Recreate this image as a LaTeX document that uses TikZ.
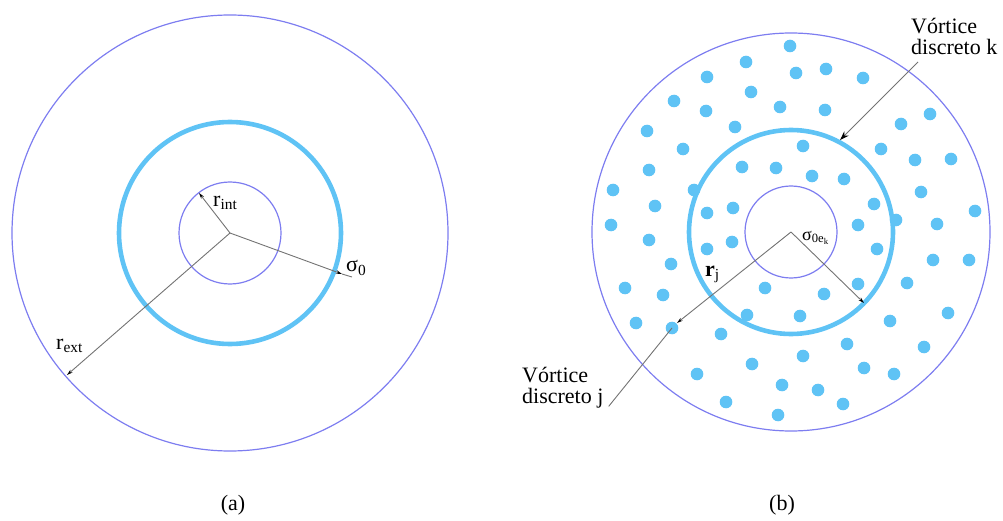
\documentclass[tikz,border=0pt]{standalone}
\usepackage{fontspec}
\setmainfont{Liberation Serif}
\usetikzlibrary{arrows.meta,positioning}
\definecolor{ringblue}{RGB}{125,125,240}
\definecolor{sheetcyan}{RGB}{95,195,245}
\definecolor{leadgray}{RGB}{115,115,115}

\begin{document}
\begin{tikzpicture}[x=1pt,y=-1pt,
  ring/.style={ringblue,line width=1.2pt},
  sheet/.style={sheetcyan,line width=4.6pt},
  vortex/.style={fill=sheetcyan},
  radarrow/.style={leadgray,line width=0.9pt,-{Stealth[length=6pt,width=3.5pt,black]}},
  leadarrow/.style={leadgray,line width=0.9pt,-{Stealth[length=9pt,width=6pt,black]}},
  leader/.style={leadgray,line width=0.9pt},
  lbl/.style={inner sep=0pt,font=\fontsize{22}{26}\selectfont},
  note/.style={inner sep=0pt,align=left,font=\fontsize{22}{21}\selectfont}]
  \useasboundingbox (0,0) rectangle (1003,521);

  % (a) continuous sheet
  \coordinate (ca) at (230,233);
  \draw[ring] (ca) circle (218);
  \draw[sheet] (ca) circle (111);
  \draw[ring] (ca) circle (51);
  \coordinate (rint-end) at (199,193);
  \coordinate (rext-end) at (67,375);
  \coordinate (s0-end) at (342,274);
  \coordinate (s0-tail) at (352,277);
  \draw[radarrow] (ca) -- (rint-end);
  \draw[radarrow] (ca) -- (rext-end);
  \draw[radarrow] (ca) -- (s0-end);
  \draw[leader] (s0-end) -- (s0-tail);
  \node[lbl,anchor=west] (rint) at (213,203) {r\textsubscript{int}};
  \node[lbl,anchor=west] (rext) at (56,346) {r\textsubscript{ext}};
  \node[lbl,anchor=west] (s0) at (346,268) {σ\textsubscript{0}};
  \node[font=\fontsize{22}{26}\selectfont] (capa) at (233,505) {(a)};

  % (b) discrete vortices
  \coordinate (cb) at (791,232);
  \draw[ring] (cb) circle (199);
  \draw[sheet] (cb) circle (102);
  \draw[ring] (cb) circle (46);
  \foreach \p in {(790,46),(746,62),(796,73),(826,69),(863,78),(707,77),(751,92),
    (674,101),(706,111),(780,107),(825,110),(930,114),(901,124),(735,127),(647,131),
    (683,149),(803,146),(881,149),(915,160),(951,159),(742,167),(776,168),(812,176),
    (844,179),(649,170),(613,190),(694,190),(921,192),(655,206),(707,213),(733,208),
    (874,204),(975,211),(896,220),(611,225),(858,225),(937,224),(649,240),(732,242),
    (877,249),(707,249),(933,260),(969,260),(671,264),(907,283),(858,284),(625,288),
    (765,288),(824,294),(663,295),(800,316),(948,313),(747,315),(890,321),(636,323),
    (721,334),(847,344),(924,347),(803,356),(752,364),(864,368),(697,374),
    (894,374),(782,385),(818,390),(726,402),(843,404),(778,415)}
    \fill[vortex] \p circle (6.3);
  \coordinate (vj) at (672,328);
  \fill[vortex] (vj) circle (6.3);
  \coordinate (rj-end) at (677,323);
  \coordinate (sk-end) at (864,303);
  \coordinate (k-end) at (840,140);
  \draw[radarrow] (cb) -- (rj-end);
  \draw[radarrow] (cb) -- (sk-end);
  \node[lbl,anchor=west] (rj) at (705,274) {\textbf{r}\textsubscript{j}};
  \node[lbl,anchor=west,font=\fontsize{18}{20}\selectfont] (sk) at (802,238) {σ\textsubscript{0e\textsubscript{k}}};
  \node[note,anchor=north west] (labk) at (911,18) {Vórtice\\discreto k};
  \node[note,anchor=north west] (labj) at (522,367) {Vórtice\\discreto j};
  \draw[leadarrow] ([shift={(7,7)}]labk.south west) -- (k-end);
  \draw[leader] ([shift={(5,-2)}]labj.south east) -- (vj);
  \node[font=\fontsize{22}{26}\selectfont] (capb) at (782,505) {(b)};
\end{tikzpicture}
\end{document}
